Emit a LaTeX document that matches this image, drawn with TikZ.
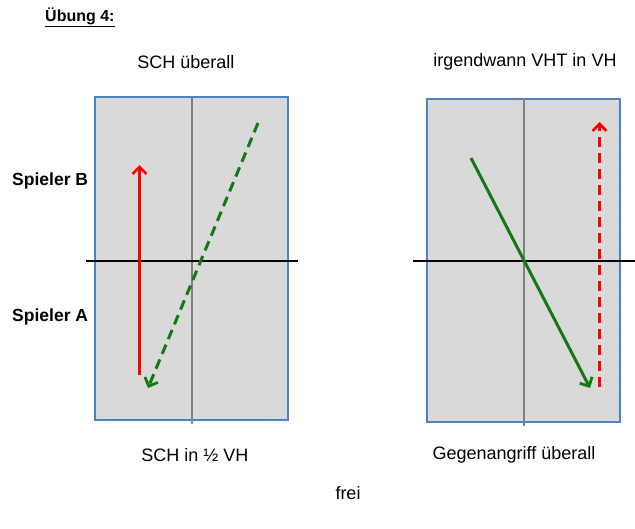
\documentclass[tikz,border=0pt]{standalone}
\usepackage{fontspec}
\setmainfont{Liberation Sans}
\usetikzlibrary{positioning,arrows.meta}
\definecolor{fieldgray}{RGB}{217,217,217}
\definecolor{fieldblue}{RGB}{79,129,189}
\definecolor{netgray}{RGB}{128,128,128}
\definecolor{ballred}{RGB}{255,0,0}
\definecolor{ballgreen}{RGB}{20,120,20}
\tikzset{
  field/.style={draw=fieldblue,fill=fieldgray,line width=2pt,minimum width=193pt,minimum height=323pt,inner sep=0pt},
  txt/.style={font=\fontsize{18}{20}\selectfont,inner sep=0pt},
  player/.style={font=\fontsize{17.5}{20}\selectfont\bfseries,inner sep=0pt,anchor=west},
  shot/.style={line width=3pt,-{Straight Barb[length=7pt,width=14pt,line width=2.8pt]}},
  dashshot/.style={shot,dash pattern=on 10pt off 6pt}
}

\begin{document}
\begin{tikzpicture}[x=1pt,y=-1pt]
  \useasboundingbox (0,0) rectangle (635,528);
  \node[font=\fontsize{16}{18}\selectfont\bfseries,inner sep=0pt,anchor=west] (ueb) at (45,17) {\underline{Übung 4:}};
  % two fields
  \node[field] (f_l) at (191.5,258.5) {};
  \node[field] (f_r) at (523.5,260) {};
  \draw[netgray,line width=2pt] (f_l.north) -- ([yshift=-3pt]f_l.south);
  \draw[netgray,line width=2pt] (f_r.north) -- ([yshift=-3pt]f_r.south);
  \coordinate (net_l_w) at (86,261);
  \coordinate (net_l_e) at (298,261);
  \coordinate (net_r_w) at (413,261);
  \coordinate (net_r_e) at (635,261);
  \draw[line width=2pt] (net_l_w) -- (net_l_e);
  \draw[line width=2pt] (net_r_w) -- (net_r_e);
  % labels
  \node[txt] (t_l) at (186,62) {SCH überall};
  \node[txt] (t_r) at (525,62) {irgendwann VHT in VH};
  \node[txt] (b_l) at (195,455) {SCH in ½ VH};
  \node[txt] (b_r) at (514,455) {Gegenangriff überall};
  \node[txt] (frei) at (348,493) {frei};
  \node[player] (p_b) at (12,181) {Spieler B};
  \node[player] (p_a) at (12,317) {Spieler A};
  % shots
  \coordinate (l_red_a) at (139.5,375);
  \coordinate (l_red_b) at (139.5,165);
  \coordinate (l_grn_a) at (258,123);
  \coordinate (l_grn_b) at (148,388);
  \coordinate (r_grn_a) at (471,158);
  \coordinate (r_grn_b) at (590,388);
  \coordinate (r_red_a) at (599.5,387);
  \coordinate (r_red_b) at (599.5,122);
  \draw[shot,ballred] (l_red_a) -- (l_red_b);
  \draw[dashshot,ballgreen] (l_grn_a) -- (l_grn_b);
  \draw[shot,ballgreen] (r_grn_a) -- (r_grn_b);
  \draw[dashshot,ballred] (r_red_a) -- (r_red_b);
\end{tikzpicture}
\end{document}
